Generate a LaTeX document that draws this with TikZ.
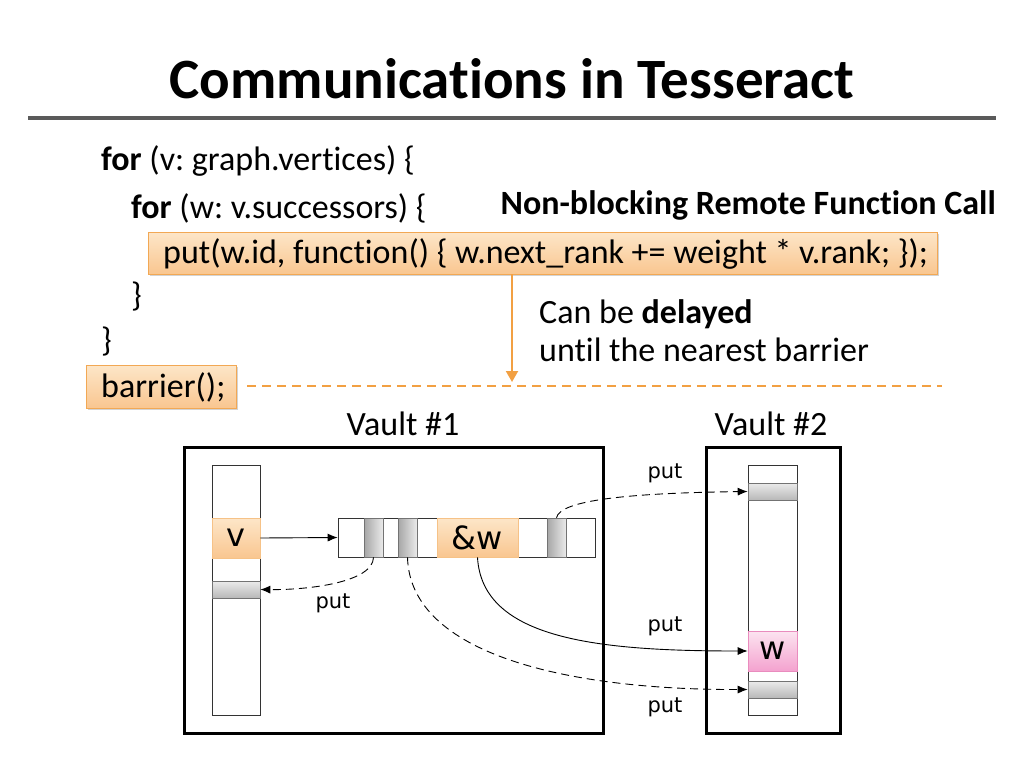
\documentclass[tikz,border=0pt]{standalone}
\usepackage{fontspec}
\setmainfont{Carlito}[Ligatures=NoCommon]
\newfontfamily\dvfont{DejaVu Sans}
\usetikzlibrary{shadows,arrows.meta}
\definecolor{orA}{HTML}{FDE6C8}
\definecolor{orB}{HTML}{F9C690}
\definecolor{orline}{HTML}{F2A854}
\definecolor{orarrow}{HTML}{F2A043}
\definecolor{pkA}{HTML}{FCE4F0}
\definecolor{pkB}{HTML}{F4A2CF}
\definecolor{pkline}{HTML}{E98CBE}
\definecolor{rulegray}{HTML}{5A5A5A}
\frenchspacing
\begin{document}
\begin{tikzpicture}[x=1pt,y=-1pt,
  body/.style={font=\fontsize{34}{40}\selectfont, inner sep=0pt},
  obox/.style={draw=orline, line width=0.8pt, top color=orA, bottom color=orB,
     drop shadow={shadow xshift=2pt, shadow yshift=-2pt, opacity=0.35}, inner sep=0pt},
  cell/.style={draw=black!80, line width=0.6pt, inner sep=0pt},
  ocell/.style={draw=orline!70, line width=0.6pt, top color=orA, bottom color=orB, inner sep=0pt, font=\dvfont\fontsize{32}{36}\selectfont},
  pcell/.style={draw=pkline, line width=0.6pt, top color=pkA, bottom color=pkB, inner sep=0pt, font=\dvfont\fontsize{32}{36}\selectfont},
  hgray/.style={draw=black!55, line width=0.6pt, top color=black!8, bottom color=black!28, inner sep=0pt},
  vgray/.style={draw=black!55, line width=0.6pt, left color=black!35, right color=black!8, inner sep=0pt},
  vault/.style={draw=black, line width=3pt, inner sep=0pt},
  putlbl/.style={font=\dvfont\fontsize{21}{24}\selectfont, inner sep=0pt},
  link/.style={line width=0.9pt, -{Latex[length=10pt,width=8pt]}},
  dlink/.style={link, dash pattern=on 8pt off 5pt}
]
\useasboundingbox (0,0) rectangle (1024,768);
% title
\node[font=\bfseries\fontsize{57}{66}\selectfont, anchor=base, inner sep=0pt] (title) at (512,98) {Communications in Tesseract};
\draw[line width=4pt, rulegray] (28,118) -- (996,118);
% code
\node[body, anchor=base west] (l1) at (101,170) {\textbf{for} (v: graph.vertices) \{};
\node[body, anchor=base west] (l2) at (131,218) {\textbf{for} (w: v.successors) \{};
\node[obox, minimum width=789pt, minimum height=42pt] (code) at (542.5,253) {};
\node[body, anchor=base west] (l3) at (163,263) {put(w.id, function() \{ w.next\_rank += weight * v.rank; \});};
\node[body, anchor=base west] (l4) at (131,306) {\}};
\node[body, anchor=base west] (l5) at (101,351) {\}};
\node[obox, minimum width=150pt, minimum height=43pt] (bar) at (161,386.5) {};
\node[body, anchor=base west] (l6) at (101,397) {barrier();};
\node[font=\bfseries\fontsize{34}{38}\selectfont, anchor=base east, inner sep=0pt] (nb) at (996,214) {Non-blocking Remote Function Call};
% barrier line and arrow
\coordinate (bl1) at (247,386);
\coordinate (bl2) at (942,386);
\coordinate (arr) at (512,386);
\draw[orarrow, line width=1.5pt, dash pattern=on 9pt off 6pt] (bl1) -- (bl2);
\draw[orarrow, line width=2pt, -{Triangle[length=11pt,width=12pt]}, shorten >=4pt] (code.south -| arr) -- (arr);
\node[body, anchor=base west] (d1) at (539,323) {Can be \textbf{delayed}};
\node[body, anchor=base west] (d2) at (539,361) {until the nearest barrier};
% vaults
\node[body, anchor=base] (v1l) at (403,435) {Vault \#1};
\node[body, anchor=base] (v2l) at (771,435) {Vault \#2};
\node[vault, minimum width=419pt, minimum height=286pt] (vault1) at (393.5,590) {};
\node[vault, minimum width=134pt, minimum height=286pt] (vault2) at (773,590) {};
% left column
\node[cell, fill=white, minimum width=48pt, minimum height=250pt] (lc) at (236,590) {};
\node[ocell, minimum width=48pt, minimum height=40pt] (v) at (236,538) {v};
\node[hgray, minimum width=48pt, minimum height=17pt] (lg) at (236,589.5) {};
% array
\node[cell, fill=white, minimum width=257pt, minimum height=39pt] (arrbox) at (466.5,537.5) {};
\node[vgray, minimum width=19pt, minimum height=39pt] (g1) at (373.5,537.5) {};
\node[vgray, minimum width=19pt, minimum height=39pt] (g2) at (407.5,537.5) {};
\node[vgray, minimum width=19pt, minimum height=39pt] (g3) at (556.5,537.5) {};
\node[ocell, minimum width=81pt, minimum height=39pt] (aw) at (477.5,537.5) {\&w};
% vault 2 column
\node[cell, fill=white, minimum width=49pt, minimum height=250pt] (rc) at (772.5,590) {};
\node[hgray, minimum width=49pt, minimum height=17pt] (r1) at (772.5,491.5) {};
\node[pcell, minimum width=49pt, minimum height=40pt] (w) at (772.5,651) {w};
\node[hgray, minimum width=49pt, minimum height=17pt] (r2) at (772.5,689.5) {};
% connectors
\draw[link] (v.east) -- (arrbox.west);
\draw[dlink] (g1.south) .. controls (373,582) and (310,590) .. (lg.east);
\draw[dlink] (g2.south) .. controls (410,655) and (570,690) .. (r2.west);
\draw[link] (aw.south) .. controls (482,640) and (600,651) .. (w.west);
\draw[dlink] (g3.north) .. controls (560,500) and (630,493) .. (r1.west);
% put labels
\node[putlbl] (p1) at (333,603) {put};
\node[putlbl] (p2) at (665,473) {put};
\node[putlbl] (p3) at (665,626) {put};
\node[putlbl] (p4) at (665,707) {put};
\end{tikzpicture}
\end{document}
